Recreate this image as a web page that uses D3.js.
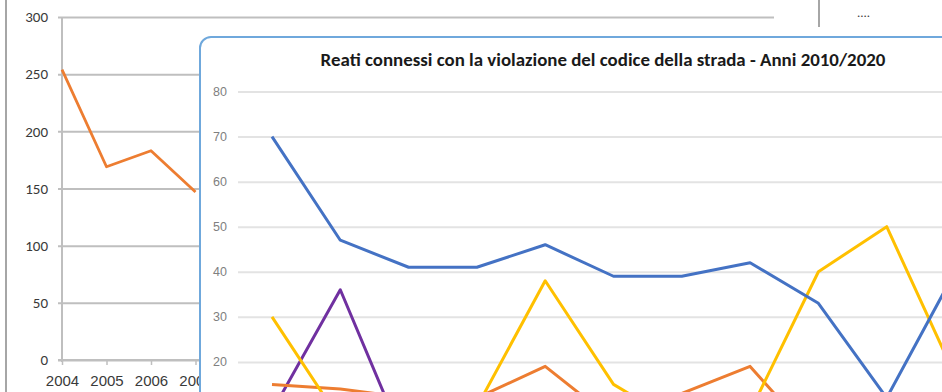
<!DOCTYPE html>
<html>
<head>
<meta charset="utf-8">
<script src="https://cdn.jsdelivr.net/npm/d3@7"></script>
<style>
  html, body { margin: 0; padding: 0; background: #fff; overflow: hidden; }
  svg { display: block; font-family: Carlito, Calibri, "Open Sans", "Liberation Sans", sans-serif; }
</style>
</head>
<body>
<svg id="chart" width="942" height="392"></svg>
<script>
// Background chart: yearly totals 2004-2020 (only the first years are not covered)
const bgYears = d3.range(2004, 2021).map(String);
const bgTicks = [0, 50, 100, 150, 200, 250, 300];
const bgValues = [254, 169, 183, 147];

// Foreground chart: offences linked to traffic-code violations, 2010-2020
const years = d3.range(2010, 2021).map(String);
const yTicks = [20, 30, 40, 50, 60, 70, 80];
const seriesBlue = [70, 47, 41, 41, 46, 39, 39, 42, 33, 12, 40];
const seriesOrange = [15, 14, 12, 12, 19, 7, 13, 19, 2, 4, 3];
const seriesYellow = [30, 7, 9, 10, 38, 15, 6, 9, 40, 50, 17];
const seriesPurple = [9, 36, 0, 2, 1, 3, 2, 1, 2, 1, 2];
const chartTitle = "Reati connessi con la violazione del codice della strada - Anni 2010/2020";

const svg = d3.select("#chart");
const W = 942, H = 392;

// ---------- background chart ----------
const bg = svg.append("g");
const xB = d3.scalePoint().domain(bgYears).range([62, 774]);
const yB = d3.scaleLinear().domain([0, 300]).range([360, 17]);

// left frame line
bg.append("line").attr("x1", 6).attr("x2", 6).attr("y1", 0).attr("y2", H)
  .attr("stroke", "#a6a6a6").attr("stroke-width", 2);

// gridlines + labels
const gy = bg.append("g").attr("transform", "translate(58,0)")
  .call(d3.axisLeft(yB).tickValues(bgTicks).tickSizeInner(-(774 - 58)).tickSizeOuter(0).tickPadding(10));
gy.select(".domain").remove();
gy.selectAll(".tick line").attr("stroke", "#bfbfbf").attr("stroke-width", 2);
gy.selectAll(".tick text").attr("fill", "#3a3a3a").style("font-size", "15px")
  .style("font-family", "Carlito, Calibri, 'Open Sans', sans-serif");

// vertical axis line
bg.append("line").attr("x1", 62).attr("x2", 62).attr("y1", yB(300)).attr("y2", 362)
  .attr("stroke", "#bfbfbf").attr("stroke-width", 2);

// x axis
const gx = bg.append("g").attr("transform", "translate(0,360)")
  .call(d3.axisBottom(xB).tickSizeInner(5).tickSizeOuter(0).tickPadding(10));
gx.select(".domain").attr("stroke", "#bfbfbf").attr("stroke-width", 2)
  .attr("d", "M58,0H774");
gx.selectAll(".tick line").attr("stroke", "#bfbfbf").attr("stroke-width", 1.5);
gx.selectAll(".tick text").attr("fill", "#3a3a3a").style("font-size", "15px");

// line
bg.append("path")
  .datum(bgValues)
  .attr("fill", "none")
  .attr("stroke", "#ed7d31")
  .attr("stroke-width", 2.8)
  .attr("stroke-linejoin", "round")
  .attr("d", d3.line().x((d, i) => xB(bgYears[i])).y(d => yB(d)));

// separator and side note
bg.append("line").attr("x1", 819).attr("x2", 819).attr("y1", 0).attr("y2", 27)
  .attr("stroke", "#a6a6a6").attr("stroke-width", 2);
bg.append("text").attr("x", 857).attr("y", 17).text("....")
  .attr("fill", "#404040").style("font-size", "13px");

// ---------- foreground chart panel ----------
const fg = svg.append("g");
fg.append("rect")
  .attr("x", 200).attr("y", 37).attr("width", 800).attr("height", 500)
  .attr("rx", 11).attr("ry", 11)
  .attr("fill", "#fff").attr("stroke", "#6fa8dc").attr("stroke-width", 2);

const x = d3.scalePoint().domain(years).range([272, 955]);
const y = d3.scaleLinear().domain([0, 80]).range([452, 91.5]);

const title = fg.append("text")
  .attr("x", 603).attr("y", 66).attr("text-anchor", "middle")
  .attr("fill", "#1a1a1a").style("font-weight", "bold").style("font-size", "15px")
  .text(chartTitle);
const tw = title.node().getComputedTextLength();
title.style("font-size", (15 * 565 / tw).toFixed(2) + "px");

const gyi = fg.append("g").attr("transform", "translate(238,0)")
  .call(d3.axisLeft(y).tickValues(yTicks).tickSizeInner(-(W - 238 + 20)).tickSizeOuter(0).tickPadding(11));
gyi.select(".domain").remove();
gyi.selectAll(".tick line").attr("stroke", "#e3e3e3").attr("stroke-width", 2);
gyi.selectAll(".tick text").attr("fill", "#808080").style("font-size", "12.5px");

const line = d3.line().x((d, i) => x(years[i])).y(d => y(d));
const series = [
  { values: seriesPurple, color: "#7030a0" },
  { values: seriesOrange, color: "#ed7d31" },
  { values: seriesYellow, color: "#ffc000" },
  { values: seriesBlue, color: "#4472c4" }
];
fg.selectAll("path.series")
  .data(series)
  .join("path")
  .attr("class", "series")
  .attr("fill", "none")
  .attr("stroke", d => d.color)
  .attr("stroke-width", 3)
  .attr("stroke-linejoin", "round")
  .attr("d", d => line(d.values));
</script>
</body>
</html>
